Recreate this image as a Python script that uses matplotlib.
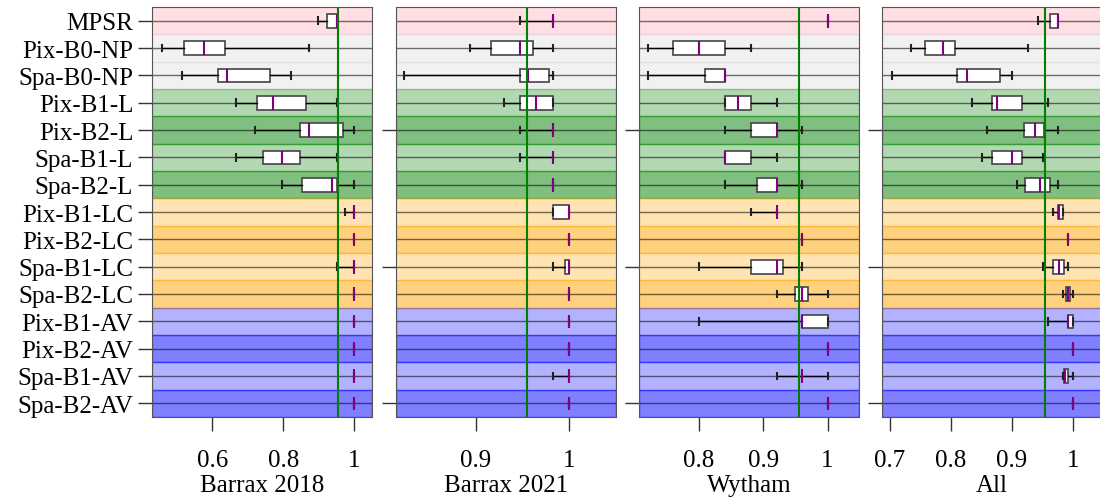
import matplotlib
matplotlib.use('Agg')
import matplotlib.pyplot as plt
from matplotlib.ticker import FuncFormatter

plt.rcParams['font.family'] = ['Liberation Serif', 'DejaVu Serif']
plt.rcParams['font.size'] = 18

methods = ['MPSR', 'Pix-B0-NP', 'Spa-B0-NP', 'Pix-B1-L', 'Pix-B2-L', 'Spa-B1-L',
           'Spa-B2-L', 'Pix-B1-LC', 'Pix-B2-LC', 'Spa-B1-LC', 'Spa-B2-LC',
           'Pix-B1-AV', 'Pix-B2-AV', 'Spa-B1-AV', 'Spa-B2-AV']

# (whisker low, q1, median, q3, whisker high) per method
barrax_2018 = [
    (0.898, 0.922, 0.950, 0.950, 0.950),
    (0.458, 0.520, 0.576, 0.635, 0.873),
    (0.514, 0.616, 0.641, 0.762, 0.821),
    (0.667, 0.725, 0.770, 0.865, 0.950),
    (0.719, 0.847, 0.873, 0.968, 1.000),
    (0.667, 0.744, 0.796, 0.847, 0.950),
    (0.796, 0.852, 0.936, 0.950, 1.000),
    (0.974, 1.000, 1.000, 1.000, 1.000),
    (1.000, 1.000, 1.000, 1.000, 1.000),
    (0.950, 1.000, 1.000, 1.000, 1.000),
    (1.000, 1.000, 1.000, 1.000, 1.000),
    (1.000, 1.000, 1.000, 1.000, 1.000),
    (1.000, 1.000, 1.000, 1.000, 1.000),
    (1.000, 1.000, 1.000, 1.000, 1.000),
    (1.000, 1.000, 1.000, 1.000, 1.000),
]
barrax_2021 = [
    (0.947, 0.983, 0.983, 0.983, 0.983),
    (0.894, 0.916, 0.947, 0.961, 0.983),
    (0.824, 0.947, 0.956, 0.978, 0.983),
    (0.930, 0.947, 0.965, 0.983, 0.983),
    (0.947, 0.983, 0.983, 0.983, 0.983),
    (0.947, 0.983, 0.983, 0.983, 0.983),
    (0.983, 0.983, 0.983, 0.983, 0.983),
    (0.983, 0.983, 1.000, 1.000, 1.000),
    (1.000, 1.000, 1.000, 1.000, 1.000),
    (0.983, 0.996, 1.000, 1.000, 1.000),
    (1.000, 1.000, 1.000, 1.000, 1.000),
    (1.000, 1.000, 1.000, 1.000, 1.000),
    (1.000, 1.000, 1.000, 1.000, 1.000),
    (0.983, 1.000, 1.000, 1.000, 1.000),
    (1.000, 1.000, 1.000, 1.000, 1.000),
]
wytham = [
    (1.000, 1.000, 1.000, 1.000, 1.000),
    (0.720, 0.760, 0.800, 0.841, 0.881),
    (0.720, 0.810, 0.841, 0.841, 0.841),
    (0.841, 0.841, 0.860, 0.881, 0.921),
    (0.841, 0.881, 0.921, 0.921, 0.960),
    (0.841, 0.841, 0.841, 0.881, 0.921),
    (0.841, 0.890, 0.921, 0.921, 0.960),
    (0.881, 0.921, 0.921, 0.921, 0.921),
    (0.960, 0.960, 0.960, 0.960, 0.960),
    (0.800, 0.881, 0.921, 0.930, 0.960),
    (0.921, 0.950, 0.960, 0.970, 1.000),
    (0.800, 0.960, 0.960, 1.000, 1.000),
    (1.000, 1.000, 1.000, 1.000, 1.000),
    (0.921, 0.960, 0.960, 0.960, 1.000),
    (1.000, 1.000, 1.000, 1.000, 1.000),
]
all_sites = [
    (0.943, 0.963, 0.975, 0.975, 0.975),
    (0.735, 0.758, 0.787, 0.806, 0.926),
    (0.703, 0.810, 0.826, 0.880, 0.901),
    (0.835, 0.868, 0.876, 0.917, 0.959),
    (0.859, 0.920, 0.938, 0.953, 0.975),
    (0.851, 0.868, 0.901, 0.917, 0.951),
    (0.909, 0.921, 0.946, 0.963, 0.975),
    (0.967, 0.975, 0.977, 0.984, 0.984),
    (0.992, 0.992, 0.992, 0.992, 0.992),
    (0.951, 0.967, 0.978, 0.986, 0.992),
    (0.984, 0.989, 0.992, 0.995, 1.000),
    (0.959, 0.992, 0.992, 1.000, 1.000),
    (1.000, 1.000, 1.000, 1.000, 1.000),
    (0.984, 0.985, 0.988, 0.992, 1.000),
    (1.000, 1.000, 1.000, 1.000, 1.000),
]

panels = ['Barrax 2018', 'Barrax 2021', 'Wytham', 'All']
panel_data = [barrax_2018, barrax_2021, wytham, all_sites]
xlims = [(0.43, 1.05), (0.815, 1.05), (0.7065, 1.049), (0.687, 1.048)]
xticks = [[0.6, 0.8, 1.0], [0.9, 1.0], [0.8, 0.9, 1.0], [0.7, 0.8, 0.9, 1.0]]
threshold = 0.955

band_colors = ['pink', 'lightgray', 'lightgray'] + ['green'] * 4 + ['orange'] * 4 + ['blue'] * 4
band_alpha = [0.5, 0.3, 0.3] + [0.3, 0.5] * 6

W, H = 1100, 502
fig = plt.figure(figsize=(W / 100, H / 100), dpi=100)
lefts = [152, 396, 639, 882]
for k, (name, data) in enumerate(zip(panels, panel_data)):
    ax = fig.add_axes([lefts[k] / W, 1 - 418 / H, 220 / W, 410 / H])
    for i in range(len(methods)):
        ax.axhspan(i - 0.5, i + 0.5, color=band_colors[i], alpha=band_alpha[i], lw=1, zorder=0)
        ax.axhline(i, color='black', alpha=0.55, lw=1, zorder=1)
    stats = [dict(whislo=d[0], q1=d[1], med=d[2], q3=d[3], whishi=d[4], fliers=[])
             for d in data]
    ax.bxp(stats, positions=range(len(methods)), orientation='horizontal',
           widths=0.5, capwidths=0.25, patch_artist=True, showfliers=False,
           boxprops=dict(facecolor='white', edgecolor='#444444', lw=1.2),
           whiskerprops=dict(color='black', lw=1),
           capprops=dict(color='#222222', lw=1.5),
           medianprops=dict(color='purple', lw=1.5),
           zorder=3)
    ax.axvline(threshold, color='green', lw=1.5, zorder=4)
    ax.set_xlim(*xlims[k])
    ax.set_ylim(len(methods) - 0.5, -0.5)
    ax.set_xticks(xticks[k])
    ax.xaxis.set_major_formatter(FuncFormatter(lambda v, p: f'{v:g}'))
    ax.tick_params(axis='x', length=10, width=1, color='#333333', pad=13)
    ax.tick_params(axis='y', length=10, width=1, color='#333333')
    if k == 0:
        ax.set_yticks(range(len(methods)))
        ax.set_yticklabels(methods)
    else:
        ax.set_yticks([4, 9, 14])
        ax.set_yticklabels([])
    ax.set_xlabel(name, labelpad=2)
    for s in ax.spines.values():
        s.set_color('#555555')
        s.set_zorder(5)

fig.savefig('out.png', dpi=100)
